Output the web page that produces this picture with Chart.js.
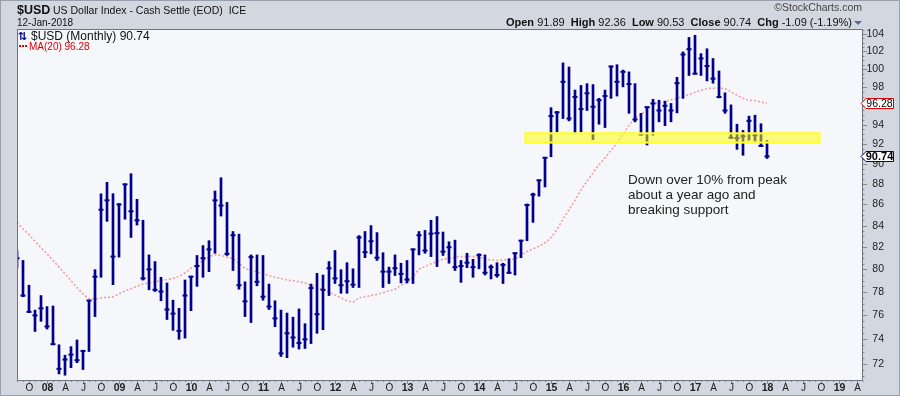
<!DOCTYPE html>
<html>
<head>
<meta charset="utf-8">
<script src="https://cdn.jsdelivr.net/npm/chart.js@4.4.1/dist/chart.umd.min.js"></script>
<style>
  html, body { margin: 0; padding: 0; background: #d3d7e0; }
  canvas { display: block; }
</style>
</head>
<body>
<canvas id="usd_chart" width="900" height="396"></canvas>
<script>
// monthly bars, Aug 2007 .. Jan 2018
const firstYear = 2007, firstMonth = 7;   // Aug 2007
const monthLetters = ['J', 'F', 'M', 'A', 'M', 'J', 'J', 'A', 'S', 'O', 'N', 'D'];
const axisMonths = 142;                    // axis runs to May 2019

const highs = [81.7, 80.8, 78.6, 76.45, 77.7, 76.75, 76.8, 73.55, 72.7, 73.4, 73.95, 73.1,
  77.3, 79.97, 87.03, 88.15, 87.04, 86.1, 88.0, 89.0, 86.5, 84.5, 81.3, 80.7,
  79.3, 78.8, 77.3, 76.6, 79.06, 79.4, 81.25, 82.15, 82.6, 87.3, 88.6, 86.2,
  83.45, 83.2, 78.9, 81.3, 81.3, 81.25, 78.7, 77.25, 76.45, 76.2, 75.85, 76.55,
  75.3, 78.7, 79.65, 79.5, 80.7, 81.7, 79.97, 80.6, 80.05, 83.07, 83.45, 84.0,
  83.35, 81.5, 80.2, 81.3, 80.55, 80.8, 81.85, 83.45, 83.55, 84.5, 84.85, 83.4,
  82.5, 82.65, 80.8, 81.45, 80.9, 81.4, 81.3, 80.4, 80.6, 80.55, 80.95, 81.5,
  82.65, 86.05, 87.1, 88.4, 90.6, 95.8, 95.4, 100.7, 100.25, 97.7, 98.2, 98.4,
  98.3, 96.8, 97.7, 100.35, 100.5, 99.9, 99.7, 98.4, 95.2, 95.9, 96.7, 96.6,
  96.5, 96.25, 99.1, 101.95, 103.6, 103.85, 101.75, 102.3, 101.2, 99.8, 97.4, 96.1,
  94.05, 93.4, 94.9, 95.0, 94.1, 92.36];
const lows = [80.1, 77.6, 76.25, 74.65, 75.5, 74.85, 73.55, 71.2, 71.1, 71.7, 72.1, 71.55,
  73.0, 75.9, 79.3, 84.4, 78.65, 81.1, 84.6, 82.9, 84.05, 79.05, 78.2, 78.05,
  77.25, 75.65, 74.75, 74.0, 74.1, 76.4, 78.5, 79.3, 79.8, 81.45, 84.9, 81.25,
  79.9, 78.25, 75.9, 75.4, 78.55, 77.3, 76.5, 75.05, 72.6, 72.5, 73.35, 73.2,
  73.25, 73.65, 74.5, 74.8, 77.7, 78.75, 77.9, 77.9, 78.4, 78.4, 81.05, 81.4,
  80.8, 78.4, 78.75, 79.45, 78.8, 78.8, 78.75, 81.3, 81.45, 81.15, 80.25, 81.25,
  80.55, 79.9, 78.85, 80.15, 79.3, 80.05, 79.5, 79.15, 79.3, 78.75, 79.65, 79.5,
  81.05, 82.6, 84.3, 86.8, 87.7, 90.7, 93.25, 94.65, 94.4, 93.05, 93.25, 95.5,
  92.45, 94.05, 93.7, 96.8, 97.05, 98.05, 95.2, 94.3, 92.9, 91.9, 92.9, 94.3,
  93.9, 94.3, 95.25, 96.8, 99.3, 99.45, 99.3, 98.7, 98.45, 96.85, 95.2, 92.55,
  91.45, 90.85, 92.4, 92.3, 91.75, 90.53];
const closes = [81.0, 77.7, 76.3, 76.0, 76.6, 75.07, 73.6, 71.6, 72.35, 72.75, 72.3, 73.05,
  77.27, 79.35, 85.5, 86.4, 81.15, 86.0, 87.95, 85.35, 84.5, 79.2, 80.0, 78.2,
  78.05, 76.5, 76.15, 74.7, 77.7, 79.35, 80.3, 81.0, 81.8, 86.4, 85.9, 81.4,
  83.1, 78.6, 77.2, 81.1, 78.9, 77.6, 76.75, 75.75, 72.85, 74.5, 74.15, 73.7,
  74.0, 78.35, 76.1, 78.2, 80.1, 79.2, 78.6, 78.95, 78.65, 82.9, 81.55, 82.55,
  81.05, 79.8, 79.8, 80.1, 79.6, 79.1, 81.8, 83.1, 81.7, 83.25, 83.3, 81.6,
  82.0, 80.2, 80.3, 80.6, 80.2, 81.3, 79.7, 80.2, 79.5, 80.4, 79.7, 81.45,
  82.6, 85.95, 86.95, 88.35, 90.6, 94.9, 95.3, 98.6, 94.65, 96.95, 95.65, 97.35,
  95.9, 96.6, 97.05, 100.3, 98.6, 99.7, 98.35, 94.55, 93.0, 95.85, 96.25, 95.5,
  96.0, 95.5, 98.45, 101.65, 102.25, 99.5, 101.2, 100.35, 98.95, 96.95, 95.5, 92.65,
  92.6, 92.8, 94.4, 92.9, 91.8, 90.74];
const ma20 = [84.3, 83.7, 83.15, 82.55, 81.95, 81.4, 80.8, 80.2, 79.6, 79.0,
  78.4, 77.85, 77.45, 77.4, 77.5, 77.55, 77.6, 77.85, 78.1, 78.3,
  78.5, 78.7, 78.8, 78.9, 79.0, 79.1, 79.2, 79.4, 79.7, 80.1,
  80.4, 80.8, 81.1, 81.3, 81.25, 81.1, 80.95, 80.55, 80.1, 79.95,
  79.75, 79.6, 79.45, 79.3, 79.2, 79.05, 79.0, 78.9, 78.8, 78.6,
  78.45, 78.2, 78.0, 77.75, 77.5, 77.25, 77.15, 77.5, 77.6, 77.7,
  77.8, 77.95, 78.1, 78.25, 78.6, 78.85, 79.35, 80.0, 80.25, 80.5,
  80.7, 80.9, 81.0, 81.1, 81.15, 81.15, 81.15, 81.1, 80.95, 80.85,
  80.8, 80.85, 80.9, 80.95, 81.3, 81.6, 81.85, 82.1, 82.4, 82.9,
  83.65, 84.6, 85.5, 86.4, 87.4, 88.25, 89.1, 89.9, 90.6, 91.35,
  92.1, 93.0, 93.9, 94.7, 95.1, 95.6, 96.15, 96.3, 96.45, 96.65,
  96.8, 97.0, 97.2, 97.45, 97.65, 97.85, 97.9, 97.9, 97.85, 97.5,
  97.15, 96.8, 96.6, 96.55, 96.4, 96.28];

const yTickValues = [72, 74, 76, 78, 80, 82, 84, 86, 88, 90, 92, 94, 96, 98, 100, 102, 104];
const supportBand = [92.05, 93.2];        // price range of the yellow zone
const supportSpan = [84.6, 133.9];        // month index range of the yellow zone
const noteLines = ['Down over 10% from peak', 'about a year ago and', 'breaking support'];

const monthLabels = [];
for (let i = 0; i < axisMonths; i++) {
  const m = (firstMonth + i) % 12;
  const yr = firstYear + Math.floor((firstMonth + i) / 12);
  monthLabels.push(m === 0 ? String(yr).slice(2) : monthLetters[m]);
}

const NAVY = '#00008c';
const FONT = '"Liberation Sans", Arial, sans-serif';

const chrome = {
  id: 'chrome',
  beforeDraw(chart) {
    const c = chart.ctx, a = chart.chartArea;
    c.save();
    c.fillStyle = '#d3d7e0';
    c.fillRect(0, 0, chart.width, chart.height);
    c.strokeStyle = '#9aa0ab';
    c.strokeRect(0.5, 0.5, chart.width - 1, chart.height - 1);
    c.fillStyle = '#f5f7fb';
    c.fillRect(a.left, a.top, a.right - a.left, a.bottom - a.top);

    // title
    c.fillStyle = '#111';
    c.textBaseline = 'alphabetic';
    c.font = 'bold 12.5px ' + FONT;
    c.fillText('$USD', 17, 14);
    c.font = '10.5px ' + FONT;
    c.fillText('US Dollar Index - Cash Settle (EOD)  ICE', 53, 14);
    c.font = '10px ' + FONT;
    c.fillText('12-Jan-2018', 17, 26);

    c.fillStyle = '#444';
    c.font = '10.5px ' + FONT;
    c.textAlign = 'right';
    c.fillText('\u00a9StockCharts.com', 862, 11);

    // OHLC line, right aligned
    const parts = [['Open', true], [' 91.89  ', false], ['High', true], [' 92.36  ', false],
      ['Low', true], [' 90.53  ', false], ['Close', true], [' 90.74  ', false],
      ['Chg', true], [' -1.09 (-1.19%)', false]];
    let w = 0;
    parts.forEach(p => { c.font = (p[1] ? 'bold ' : '') + '11px ' + FONT; w += c.measureText(p[0]).width; });
    let x = 852 - w;
    c.textAlign = 'left';
    c.fillStyle = '#111';
    parts.forEach(p => {
      c.font = (p[1] ? 'bold ' : '') + '11px ' + FONT;
      c.fillText(p[0], x, 26);
      x += c.measureText(p[0]).width;
    });
    c.fillStyle = '#4f6d9a';
    c.beginPath();
    c.moveTo(854, 21); c.lineTo(862, 21); c.lineTo(858, 25); c.closePath();
    c.fill();
    c.restore();
  },
  afterDatasetsDraw(chart) {
    const c = chart.ctx, a = chart.chartArea;
    const xs = chart.scales.x, ys = chart.scales.y;
    c.save();

    // support zone
    const bx0 = xs.getPixelForValue(supportSpan[0]), bx1 = xs.getPixelForValue(supportSpan[1]);
    const by0 = ys.getPixelForValue(supportBand[1]), by1 = ys.getPixelForValue(supportBand[0]);
    c.fillStyle = 'rgba(255,255,0,0.5)';
    c.fillRect(bx0, by0, bx1 - bx0, by1 - by0);
    c.strokeStyle = '#ffff2a';
    c.lineWidth = 2;
    c.strokeRect(bx0 + 1, by0 + 1, bx1 - bx0 - 2, by1 - by0 - 2);

    // note
    c.fillStyle = '#222';
    c.font = '13.5px ' + FONT;
    noteLines.forEach((t, i) => c.fillText(t, 628, 184 + i * 15));

    // legend
    c.fillStyle = NAVY;
    c.font = 'bold 11px "DejaVu Sans", sans-serif';
    c.fillText('\u21c5', 18, 40);
    c.fillStyle = '#111';
    c.font = '12px ' + FONT;
    c.fillText('$USD (Monthly) 90.74', 31, 40);
    c.fillStyle = '#e00000';
    [19, 22, 25].forEach(px => c.fillRect(px, 45, 2, 2));
    c.font = '10px ' + FONT;
    c.fillText('MA(20) 96.28', 29, 50);

    // left margin cover, keeps edge marks inside the plot
    c.fillStyle = '#d3d7e0';
    c.fillRect(1, a.top, a.left - 1, a.bottom - a.top);

    // frame
    c.strokeStyle = '#6d7380';
    c.lineWidth = 1;
    c.strokeRect(a.left + 0.5, a.top + 0.5, a.right - a.left - 1, a.bottom - a.top);

    // x axis
    c.strokeStyle = '#888';
    c.fillStyle = '#222';
    c.textAlign = 'center';
    c.textBaseline = 'middle';
    monthLabels.forEach((lab, i) => {
      const px = Math.round(xs.getPixelForValue(i)) + 0.5;
      const m = (firstMonth + i) % 12;
      const q = m % 3 === 0;
      c.beginPath();
      c.moveTo(px, a.bottom + 1);
      c.lineTo(px, a.bottom + (q ? 4 : 2));
      c.stroke();
      if (q) {
        c.font = (m === 0 ? 'bold 10.5px ' : '10px ') + FONT;
        c.fillText(lab, px, 388);
      }
    });

    // y axis
    c.textAlign = 'right';
    c.font = '10.5px ' + FONT;
    for (let v = 71; v <= 104.5; v += 0.5) {
      const py = Math.round(ys.getPixelForValue(v)) + 0.5;
      c.beginPath();
      c.moveTo(a.right, py);
      c.lineTo(a.right + 1.5, py);
      c.stroke();
    }
    yTickValues.forEach(v => {
      const py = Math.round(ys.getPixelForValue(v)) + 0.5;
      c.beginPath();
      c.moveTo(a.right, py);
      c.lineTo(a.right + 4, py);
      c.stroke();
      c.fillText(String(v), 884, py);
    });

    // last value tags
    const tag = (v, txt, color, bold) => {
      const py = Math.round(ys.getPixelForValue(v)) + 0.5;
      c.beginPath();
      c.moveTo(861, py);
      c.lineTo(866, py - 5);
      c.lineTo(893.5, py - 5);
      c.lineTo(893.5, py + 5);
      c.lineTo(866, py + 5);
      c.closePath();
      c.fillStyle = '#fff';
      c.fill();
      c.strokeStyle = color;
      c.lineWidth = 1;
      c.stroke();
      c.fillStyle = '#000';
      c.textAlign = 'center';
      c.font = (bold ? 'bold 11px ' : '10.5px ') + FONT;
      c.fillText(txt, 879.5, py + 0.5);
    };
    tag(ma20[ma20.length - 1], '96.28', '#e00000', false);
    tag(closes[closes.length - 1], '90.74', NAVY, true);
    c.restore();
  }
};

new Chart(document.getElementById('usd_chart').getContext('2d'), {
  type: 'bar',
  data: {
    labels: monthLabels,
    datasets: [
      {
        type: 'line',
        label: 'MA(20)',
        data: ma20,
        borderColor: 'rgba(238,120,120,0.7)',
        borderWidth: 1.6,
        borderDash: [2, 2],
        pointRadius: 0,
        cubicInterpolationMode: 'monotone',
        order: 3
      },
      {
        label: 'High-Low',
        data: highs.map((h, i) => [lows[i], h]),
        backgroundColor: NAVY,
        barThickness: 2,
        order: 2
      },
      {
        type: 'line',
        label: 'Close',
        data: closes,
        showLine: false,
        pointStyle: 'line',
        pointRadius: 2.5,
        pointBorderWidth: 2,
        pointBorderColor: NAVY,
        borderColor: NAVY,
        order: 1
      }
    ]
  },
  options: {
    responsive: false,
    animation: false,
    devicePixelRatio: 1,
    layout: { padding: { left: 17, top: 29, right: 37, bottom: 16 } },
    plugins: { legend: { display: false }, tooltip: { enabled: false } },
    scales: {
      x: { display: false, offset: false, grid: { display: false } },
      y: { type: 'logarithmic', display: false, min: 70.72, max: 104.58 }
    }
  },
  plugins: [chrome]
});
</script>
</body>
</html>
